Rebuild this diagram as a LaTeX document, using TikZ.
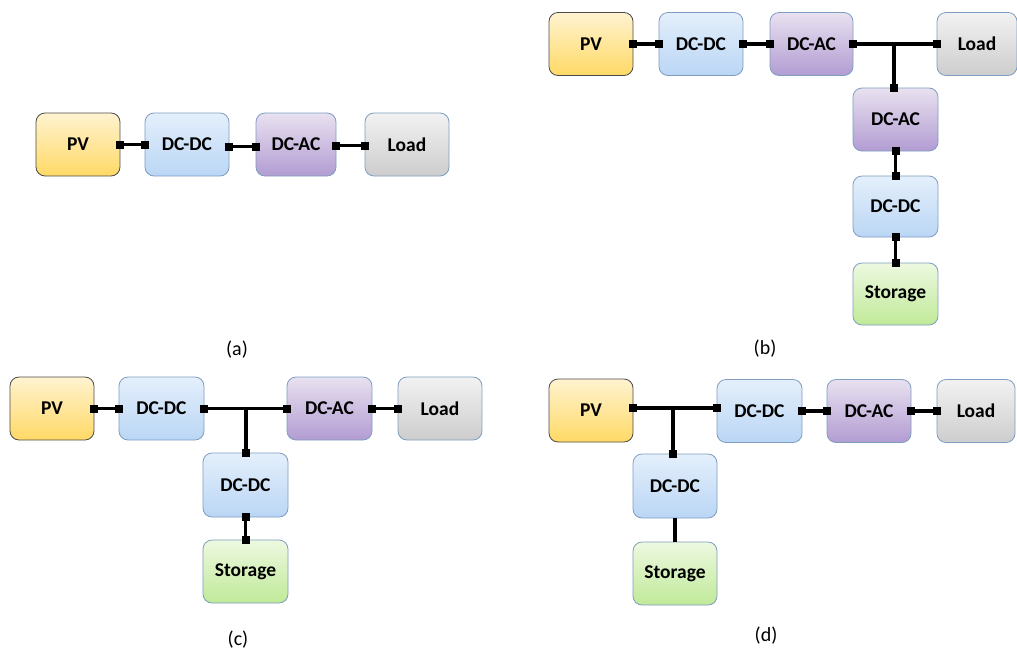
\documentclass[tikz,border=0pt]{standalone}
\usepackage{fontspec}
\setmainfont{Carlito}
\usetikzlibrary{arrows.meta}

\definecolor{pvtop}{HTML}{FFF3D0}
\definecolor{pvbot}{HTML}{FFD966}
\definecolor{pvline}{HTML}{4A4A4A}
\definecolor{dctop}{HTML}{E4EFFB}
\definecolor{dcbot}{HTML}{BAD6F5}
\definecolor{actop}{HTML}{E8E1F0}
\definecolor{acbot}{HTML}{B29CD2}
\definecolor{ldtop}{HTML}{F2F2F2}
\definecolor{ldbot}{HTML}{CDCDCD}
\definecolor{sttop}{HTML}{EDF9E0}
\definecolor{stbot}{HTML}{C0E999}
\definecolor{edge}{HTML}{7E9DC0}

\tikzset{
  unit/.style={draw=edge, line width=0.8pt, rounded corners=9pt,
    minimum width=84pt, minimum height=63pt, inner sep=0pt,
    font=\fontsize{19.5}{22}\selectfont\bfseries},
  pvbox/.style={unit, draw=pvline, top color=pvtop, bottom color=pvbot},
  dcbox/.style={unit, top color=dctop, bottom color=dcbot},
  acbox/.style={unit, top color=actop, bottom color=acbot},
  loadbox/.style={unit, top color=ldtop, bottom color=ldbot},
  storebox/.style={unit, top color=sttop, bottom color=stbot},
  lnk/.style={line width=3.2pt},
  both/.style={lnk, {Square[length=8pt,width=8pt]}-{Square[length=8pt,width=8pt]},
    shorten <=-4pt, shorten >=-4pt},
  endsq/.style={lnk, -{Square[length=8pt,width=8pt]}, shorten >=-4pt},
  caption/.style={font=\fontsize{20}{24}\selectfont}
}

\begin{document}
\begin{tikzpicture}[x=1pt,y=-1pt]
\useasboundingbox (0,0) rectangle (1017,654);

% (a) single chain
\node[pvbox]    (apv)   at (78,144.5)  {PV};
\node[dcbox]    (adc)   at (187,144.5) {DC-DC};
\node[acbox, minimum width=80pt] (aac) at (296,144.5) {DC-AC};
\node[loadbox]  (ald)   at (407,144.5) {Load};
\draw[both] (apv.east) -- (adc.west);
\draw[both] ([yshift=-2pt]adc.east) -- ([yshift=-2pt]aac.west);
\draw[both] ([yshift=-1pt]aac.east) -- ([yshift=-1pt]ald.west);
\node[caption] (capa) at (237,350) {(a)};

% (b) storage on the AC side
\node[pvbox]    (bpv)   at (591,44)    {PV};
\node[dcbox]    (bdc)   at (701,44)    {DC-DC};
\node[acbox, minimum width=83pt] (bac) at (811.5,44) {DC-AC};
\node[loadbox, minimum width=80pt] (bld) at (977,44) {Load};
\node[acbox, minimum width=85pt] (bac2) at (895.5,119.5) {DC-AC};
\node[dcbox, minimum width=85pt, minimum height=61pt] (bdc2) at (895.5,206.5) {DC-DC};
\node[storebox, minimum width=85pt, minimum height=62pt] (bst) at (895.5,294) {Storage};
\coordinate (bj) at (894,44);
\draw[both] (bpv.east) -- (bdc.west);
\draw[both] (bdc.east) -- (bac.west);
\draw[both] (bac.east) -- (bld.west);
\draw[endsq] (bj) -- (bj |- bac2.north);
\draw[both] (bac2.south) -- (bdc2.north);
\draw[both] (bdc2.south) -- (bst.north);
\node[caption] (capb) at (765,349) {(b)};

% (c) storage on the DC link
\node[pvbox]    (cpv)   at (52,408.5)    {PV};
\node[dcbox, minimum width=85pt] (cdc) at (161.5,408.5) {DC-DC};
\node[acbox, minimum width=85pt] (cac) at (329.5,408.5) {DC-AC};
\node[loadbox]  (cld)   at (440,408.5)   {Load};
\node[dcbox, minimum width=85pt, minimum height=64pt] (cdc2) at (245.5,485) {DC-DC};
\node[storebox, minimum width=85pt] (cst) at (245.5,571.5) {Storage};
\coordinate (cj) at (246,408.5);
\draw[both] (cpv.east) -- (cdc.west);
\draw[both] (cdc.east) -- (cac.west);
\draw[both] (cac.east) -- (cld.west);
\draw[endsq] (cj) -- (cj |- cdc2.north);
\draw[both] (cdc2.south) -- (cst.north);
\node[caption] (capc) at (238,640) {(c)};

% (d) storage at the PV output
\node[pvbox]    (dpv)   at (591,410.5)   {PV};
\node[dcbox, minimum width=85pt] (ddc) at (759.5,411) {DC-DC};
\node[acbox]    (dac)   at (869,411)     {DC-AC};
\node[loadbox, minimum width=78pt] (dld) at (976,411) {Load};
\node[dcbox, minimum height=64pt] (ddc2) at (675,486) {DC-DC};
\node[storebox] (dst)   at (675,573.5)   {Storage};
\coordinate (dj) at (673,408);
\draw[both] (dpv.east |- dj) -- (ddc.west |- dj);
\draw[both] (ddc.east) -- (dac.west);
\draw[both] (dac.east) -- (dld.west);
\draw[endsq] (dj) -- (dj |- ddc2.north);
\draw[lnk] (ddc2.south) -- (dst.north);
\node[caption] (capd) at (766,636) {(d)};
\end{tikzpicture}
\end{document}
